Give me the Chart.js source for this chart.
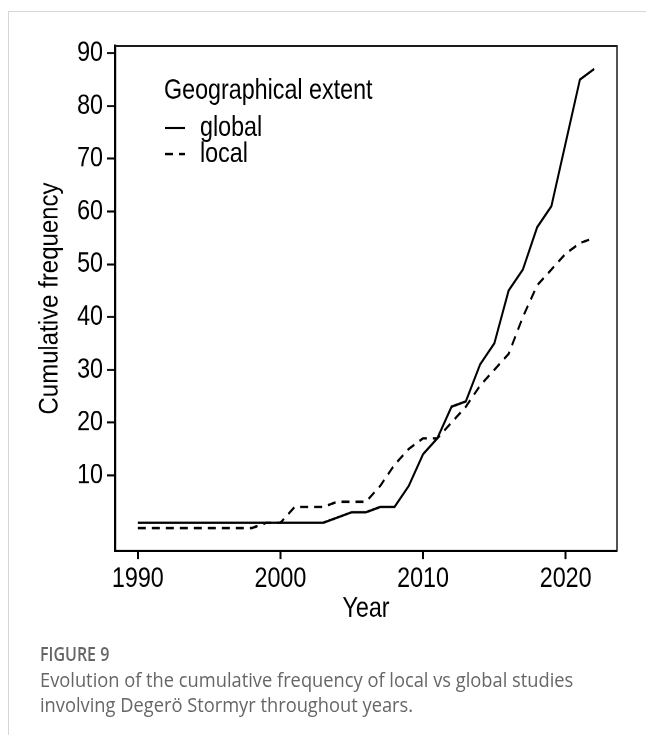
<!DOCTYPE html>
<html>
<head>
<meta charset="utf-8">
<script src="https://cdn.jsdelivr.net/npm/chart.js@4.4.0/dist/chart.umd.min.js"></script>
<style>
  html, body { margin: 0; padding: 0; background: #fff; width: 646px; height: 735px; overflow: hidden; }
  #wrap { position: relative; width: 646px; height: 735px; }
  #frameTop { position: absolute; left: 8px; top: 11px; width: 638px; height: 1px; background: #d6d6d6; }
  #frameLeft { position: absolute; left: 8px; top: 11px; width: 1px; height: 724px; background: #d6d6d6; }
  /* the figure is drawn on a shorter canvas and stretched vertically, giving the tall lettering */
  #chart { position: absolute; left: 0; top: 0; transform-origin: 0 0; transform: scaleY(1.2189); }
  .cap { position: absolute; left: 40px; font-family: 'Open Sans', sans-serif; color: #666;
         white-space: nowrap; transform-origin: left top; }
  #figNo { top: 640px; font-size: 16px; font-weight: 600; transform: scaleY(1.25); }
  #cap1 { top: 665px; font-size: 18.3px; transform: scaleY(1.1); }
  #cap2 { top: 690px; font-size: 18.3px; transform: scaleY(1.1); }
</style>
</head>
<body>
<div id="wrap">
  <div id="frameTop"></div>
  <div id="frameLeft"></div>
  <canvas id="chart" width="646" height="603"></canvas>
  <div class="cap" id="figNo">FIGURE 9</div>
  <div class="cap" id="cap1">Evolution of the cumulative frequency of local vs global studies</div>
  <div class="cap" id="cap2">involving Degerö Stormyr throughout years.</div>
</div>
<script>
// Publication years and cumulative number of studies per geographical extent
const years = [1990, 1991, 1992, 1993, 1994, 1995, 1996, 1997, 1998, 1999, 2000,
               2001, 2002, 2003, 2004, 2005, 2006, 2007, 2008, 2009, 2010,
               2011, 2012, 2013, 2014, 2015, 2016, 2017, 2018, 2019, 2020, 2021, 2022];
const globalStudies = [1, 1, 1, 1, 1, 1, 1, 1, 1, 1, 1,
                       1, 1, 1, 2, 3, 3, 4, 4, 8, 14,
                       17, 23, 24, 31, 35, 45, 49, 57, 61, 73, 85, 87];
const localStudies = [0, 0, 0, 0, 0, 0, 0, 0, 0, 1, 1,
                      4, 4, 4, 5, 5, 5, 8, 12, 15, 17,
                      17, 20, 23, 27, 30, 33, 40, 46, 49, 52, 54, 55];
const seriesNames = ['global', 'local'];
const xTicks = [1990, 2000, 2010, 2020];
const yTicks = [10, 20, 30, 40, 50, 60, 70, 80, 90];
const yTitle = 'Cumulative frequency';

const SY = 735 / 603;               // vertical stretch applied to the canvas
const FONT_FAMILY = "'Liberation Sans', Arial, sans-serif";
const TEXT_SIZE = 23.3;
const DASH = [8, 6];

const toPoints = vals => years.map((yr, i) => ({ x: yr, y: vals[i] }));

// Panel box (top and right edges), the rotated y-axis title and the in-panel legend
const panelAndLegend = {
  id: 'panelAndLegend',
  beforeDatasetsDraw(chart) {
    const { ctx, chartArea: a } = chart;
    ctx.save();
    ctx.strokeStyle = '#1a1a1a';
    ctx.lineWidth = 1.5;
    ctx.beginPath();
    ctx.moveTo(a.left, a.top);
    ctx.lineTo(a.right, a.top);
    ctx.lineTo(a.right, a.bottom);
    ctx.stroke();
    ctx.restore();
  },
  afterDatasetsDraw(chart) {
    const { ctx, chartArea: a } = chart;
    const x0 = a.left + 49;
    ctx.save();
    ctx.fillStyle = '#000';
    ctx.textAlign = 'left';
    ctx.textBaseline = 'middle';
    ctx.font = `${TEXT_SIZE}px ${FONT_FAMILY}`;
    ctx.fillText('Geographical extent', x0, a.top + 45 / SY);
    chart.data.datasets.forEach((ds, i) => {
      const y = a.top + (82 + i * 26) / SY;
      ctx.strokeStyle = ds.borderColor;
      ctx.lineWidth = ds.borderWidth;
      ctx.setLineDash(ds.borderDash || []);
      ctx.beginPath();
      ctx.moveTo(x0 + 1, y);
      ctx.lineTo(x0 + 21, y);
      ctx.stroke();
      ctx.setLineDash([]);
      ctx.fillText(ds.label, x0 + 36, y);
    });
    ctx.restore();

    // y-axis title: undo the canvas stretch so the rotated lettering keeps the same tall shape
    ctx.save();
    ctx.translate(50, (a.top + a.bottom) / 2);
    ctx.scale(1, 1 / SY);
    ctx.rotate(-Math.PI / 2);
    ctx.scale(1, 1.12);
    ctx.fillStyle = '#000';
    ctx.textAlign = 'center';
    ctx.textBaseline = 'middle';
    ctx.font = `24px ${FONT_FAMILY}`;
    ctx.fillText(yTitle, 0, 0);
    ctx.restore();
  }
};

const tickFont = { family: FONT_FAMILY, size: TEXT_SIZE };

new Chart(document.getElementById('chart'), {
  type: 'line',
  data: {
    datasets: [
      { label: seriesNames[0], data: toPoints(globalStudies), borderColor: '#000', borderWidth: 2,
        pointRadius: 0, tension: 0, fill: false },
      { label: seriesNames[1], data: toPoints(localStudies), borderColor: '#000', borderWidth: 2,
        borderDash: DASH, pointRadius: 0, tension: 0, fill: false }
    ]
  },
  options: {
    responsive: false,
    animation: false,
    devicePixelRatio: 2,
    layout: { padding: { left: 0, top: 46 / SY, right: 29, bottom: 603 - 551 / SY - 70 } },
    plugins: { legend: { display: false }, tooltip: { enabled: false } },
    scales: {
      x: {
        type: 'linear',
        min: 1988.4, max: 2023.6,
        grid: { display: true, drawOnChartArea: false, drawTicks: true, tickLength: 8 / SY, tickWidth: 2, tickColor: '#000' },
        border: { display: true, color: '#000', width: 2 },
        ticks: { color: '#000', font: tickFont, autoSkip: false, maxRotation: 0, padding: 2.5,
                 callback: v => String(v) },
        afterBuildTicks: s => { s.ticks = xTicks.map(v => ({ value: v })); },
        afterFit: s => { s.height = 70; },
        title: { display: true, text: 'Year', color: '#000',
                 font: { family: FONT_FAMILY, size: TEXT_SIZE }, padding: { top: 0, bottom: 8.5 } }
      },
      y: {
        type: 'linear',
        min: -4.35, max: 91.35,
        grid: { display: true, drawOnChartArea: false, drawTicks: true, tickLength: 8, tickWidth: 2 / SY, tickColor: '#000' },
        border: { display: true, color: '#000', width: 2.2 },
        ticks: { color: '#000', font: tickFont, autoSkip: false, maxRotation: 0, padding: 4,
                 callback: v => String(v) },
        afterBuildTicks: s => { s.ticks = yTicks.map(v => ({ value: v })); },
        afterFit: s => { s.width = 115; },
        title: { display: false }
      }
    }
  },
  plugins: [panelAndLegend]
});
</script>
</body>
</html>
